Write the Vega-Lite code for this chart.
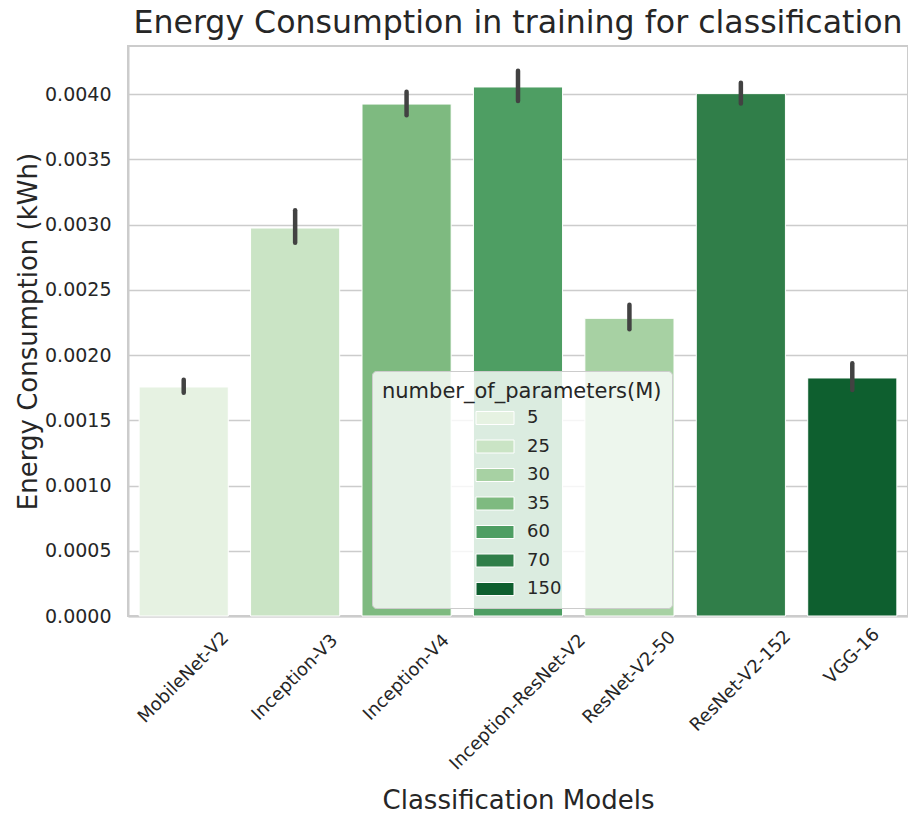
{
  "$schema": "https://vega.github.io/schema/vega-lite/v6.json",
  "width": 780,
  "height": 570,
  "autosize": {"type": "none"},
  "padding": {"left": 128, "top": 46, "right": 0, "bottom": 201},
  "background": "#ffffff",
  "title": {
    "text": "Energy Consumption in training for classification",
    "fontSize": 31.6,
    "font": "DejaVu Sans",
    "fontWeight": "normal",
    "color": "#262626",
    "anchor": "middle",
    "frame": "group",
    "baseline": "alphabetic",
    "offset": -19
  },
  "config": {
    "font": "DejaVu Sans",
    "view": {"stroke": "#cccccc", "strokeWidth": 2},
    "axis": {
      "labelFont": "DejaVu Sans",
      "titleFont": "DejaVu Sans",
      "labelColor": "#262626",
      "titleColor": "#262626",
      "labelFontSize": 19,
      "titleFontSize": 26,
      "titleFontWeight": "normal",
      "domainColor": "#cccccc",
      "domainWidth": 2,
      "gridColor": "#cccccc",
      "gridWidth": 1.6,
      "ticks": false,
      "tickSize": 0
    },
    "legend": {
      "labelFont": "DejaVu Sans",
      "titleFont": "DejaVu Sans"
    }
  },
  "data": {
    "values": [
      {"model": "MobileNet-V2", "params": 5, "energy": 0.001755, "lo": 0.00171, "hi": 0.00181},
      {"model": "Inception-V3", "params": 25, "energy": 0.002973, "lo": 0.00286, "hi": 0.00311},
      {"model": "Inception-V4", "params": 35, "energy": 0.003923, "lo": 0.003837, "hi": 0.004018},
      {"model": "Inception-ResNet-V2", "params": 60, "energy": 0.004054, "lo": 0.003946, "hi": 0.004179},
      {"model": "ResNet-V2-50", "params": 30, "energy": 0.002281, "lo": 0.002197, "hi": 0.002386},
      {"model": "ResNet-V2-152", "params": 70, "energy": 0.004003, "lo": 0.003928, "hi": 0.004087},
      {"model": "VGG-16", "params": 150, "energy": 0.001824, "lo": 0.001732, "hi": 0.001936}
    ]
  },
  "encoding": {
    "x": {
      "field": "model",
      "type": "nominal",
      "sort": ["MobileNet-V2", "Inception-V3", "Inception-V4", "Inception-ResNet-V2", "ResNet-V2-50", "ResNet-V2-152", "VGG-16"],
      "scale": {"paddingInner": 0.2, "paddingOuter": 0.1},
      "axis": {
        "title": "Classification Models",
        "titleY": 192,
        "titleBaseline": "alphabetic",
        "labels": false,
        "grid": false
      }
    }
  },
  "layer": [
    {
      "mark": {"type": "bar", "stroke": "#ffffff", "strokeWidth": 1},
      "encoding": {
        "y": {
          "field": "energy",
          "type": "quantitative",
          "scale": {"domain": [0, 0.004368], "nice": false},
          "axis": {
            "title": "Energy Consumption (kWh)",
            "values": [0, 0.0005, 0.001, 0.0015, 0.002, 0.0025, 0.003, 0.0035, 0.004],
            "format": ".4f",
            "labelPadding": 17,
            "titleX": -92,
            "titleY": 285,
            "titleBaseline": "alphabetic",
            "grid": true
          }
        },
        "color": {
          "field": "params",
          "type": "ordinal",
          "scale": {
            "domain": [5, 25, 30, 35, 60, 70, 150],
            "range": ["#e6f2e2", "#cae4c5", "#a7d1a3", "#7eba80", "#4e9e63", "#307e49", "#0e5f2f"]
          },
          "legend": {
            "title": "number_of_parameters(M)",
            "orient": "none",
            "legendX": 244,
            "legendY": 325,
            "padding": 10,
            "fillColor": "rgba(255,255,255,0.8)",
            "strokeColor": "#cccccc",
            "cornerRadius": 4,
            "titleFontSize": 21,
            "titleFontWeight": "normal",
            "titleColor": "#262626",
            "titlePadding": 7,
            "titleLimit": 500,
            "labelFontSize": 18,
            "labelColor": "#262626",
            "symbolType": "M-2.923,-1L2.923,-1L2.923,1L-2.923,1Z",
            "symbolSize": 169,
            "symbolStrokeColor": "#ffffff",
            "symbolStrokeWidth": 1,
            "symbolOpacity": 1,
            "symbolOffset": 104,
            "labelOffset": 23,
            "rowPadding": 10.5
          }
        }
      }
    },
    {
      "mark": {"type": "rule", "color": "#424242", "strokeWidth": 4.5, "strokeCap": "round"},
      "encoding": {
        "y": {"field": "lo", "type": "quantitative"},
        "y2": {"field": "hi"}
      }
    },
    {
      "mark": {
        "type": "text",
        "angle": 315,
        "align": "center",
        "baseline": "middle",
        "font": "DejaVu Sans",
        "fontSize": 18,
        "color": "#262626",
        "dx": {"expr": "-(13.7+2.5*length(datum.model))"},
        "dy": {"expr": "13.7+2.5*length(datum.model)"}
      },
      "encoding": {
        "y": {"datum": 0, "type": "quantitative"},
        "text": {"field": "model"}
      }
    }
  ]
}
